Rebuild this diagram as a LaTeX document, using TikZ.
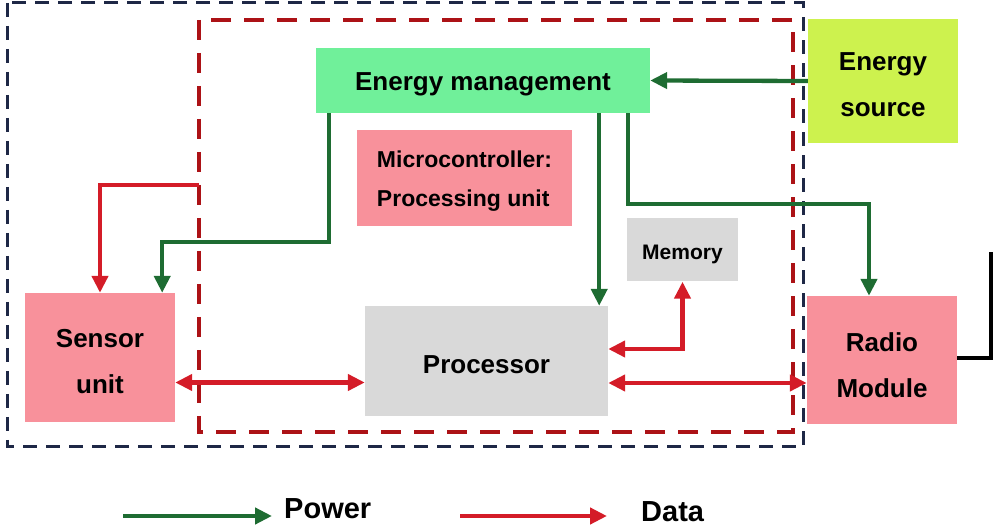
\documentclass[tikz,border=0pt]{standalone}
\usepackage{fontspec}
\setmainfont{Liberation Sans}
\usetikzlibrary{arrows.meta}
\definecolor{pwgreen}{RGB}{30,108,50}
\definecolor{dtred}{RGB}{212,28,40}
\definecolor{navy}{RGB}{30,40,70}
\definecolor{dred}{RGB}{172,18,22}
\definecolor{emfill}{RGB}{112,240,154}
\definecolor{esfill}{RGB}{205,242,78}
\definecolor{pinkfill}{RGB}{248,145,155}
\definecolor{grayfill}{RGB}{217,217,217}
\tikzset{
  blk/.style={draw=none, inner sep=0pt},
  txt/.style={inner sep=0pt, font=\bfseries\fontsize{26}{46}\selectfont, align=center, text=black},
  tip/.tip={Triangle[length=17pt,width=16pt]},
  pw/.style={draw=pwgreen, line width=4.3pt, -tip},
  dt/.style={draw=dtred, line width=4.3pt, -tip},
  dtb/.style={draw=dtred, line width=4.3pt, tip-tip},
  ant/.style={draw=black, line width=4.5pt},
  legtxt/.style={font=\bfseries\fontsize{29}{32}\selectfont, inner sep=0pt, anchor=west}
}
\begin{document}
\begin{tikzpicture}[x=1pt,y=-1pt]
\useasboundingbox (0,0) rectangle (997,529);
% enclosures
\draw[navy, line width=3pt, dash pattern=on 14pt off 9pt] (7,3) rectangle (803,447);
\draw[dred, line width=4.3pt, dash pattern=on 20pt off 13pt] (199,20) rectangle (793,432);
% blocks
\node[blk, fill=emfill, minimum width=334, minimum height=65] (em) at (483,80.5) {};
\node[blk, fill=pinkfill, minimum width=215, minimum height=96] (mc) at (464.5,178) {};
\node[blk, fill=esfill, minimum width=150, minimum height=124] (es) at (883,81) {};
\node[blk, fill=grayfill, minimum width=111, minimum height=63] (me) at (682.5,250) {};
\node[blk, fill=grayfill, minimum width=243, minimum height=110] (pr) at (486.5,361) {};
\node[blk, fill=pinkfill, minimum width=150, minimum height=129] (su) at (100,357.5) {};
\node[blk, fill=pinkfill, minimum width=150, minimum height=128] (rm) at (882,360) {};
% texts
\node[txt] (emt) at ([yshift=-4]em.center) {Energy management};
\node[txt, font=\bfseries\fontsize{23}{39}\selectfont, align=left] (mct) at ([yshift=-3]mc.center) {Microcontroller:\\Processing unit};
\node[txt] (est) at ([yshift=-4]es.center) {Energy\\source};
\node[txt, font=\bfseries\fontsize{21}{24}\selectfont] (met) at ([yshift=-4]me.center) {Memory};
\node[txt] (prt) at ([yshift=-4]pr.center) {Processor};
\node[txt] (sut) at ([yshift=-4]su.center) {Sensor\\unit};
\node[txt] (rmt) at ([yshift=-5]rm.center) {Radio\\Module};
% power
\draw[pw] (es.west) -- (em.east);
\draw[pw] ([xshift=13]em.south west) -- ++(0,129) -| ([xshift=-13]su.north east);
\draw[pw] ([xshift=-51]em.south east) -- ([xshift=-51]em.south east |- pr.north);
\draw[pw] ([xshift=-22]em.south east) -- ++(0,91) -| ([xshift=-13]rm.north);
% data
\coordinate (d1) at (199,185);
\draw[dt] (d1) -| (su.north);
\draw[dtb] ([yshift=-25]su.east) -- ([yshift=-25]su.east -| pr.west);
\draw[dtb] ([yshift=12]pr.east) -| (me.south);
\draw[dtb] ([yshift=-22]pr.east) -- ([yshift=-22]pr.east -| rm.west);
% antenna
\coordinate (antTop) at (991,252);
\draw[ant] (rm.east |- 0,358) -| (antTop);
% legend
\coordinate (lp1) at (123,516);
\coordinate (lp2) at (272,516);
\coordinate (ld1) at (460,516);
\coordinate (ld2) at (607,516);
\draw[draw=pwgreen, line width=4.5pt, -{Triangle[length=17pt,width=16pt]}] (lp1) -- (lp2);
\draw[draw=dtred, line width=4.5pt, -{Triangle[length=17pt,width=16pt]}] (ld1) -- (ld2);
\node[legtxt] (lpt) at (284,509) {Power};
\node[legtxt] (ldt) at (641,512) {Data};
\end{tikzpicture}
\end{document}
